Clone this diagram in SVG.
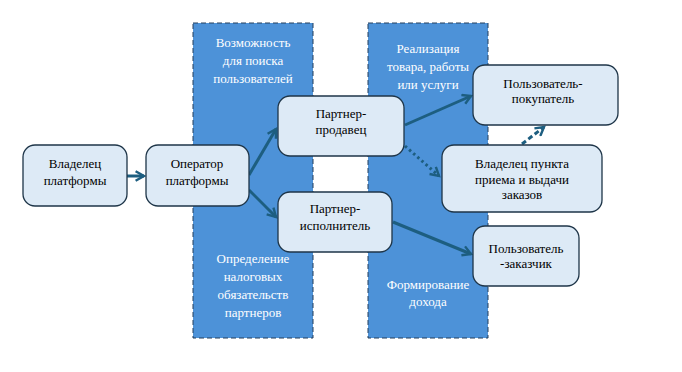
<svg xmlns="http://www.w3.org/2000/svg" width="682" height="372" viewBox="0 0 682 372">
<style>
.band{fill:#4D92D8;stroke:#243F5C;stroke-width:1;stroke-dasharray:5,3}
.box{fill:#DDEAF6;stroke:#1E3548;stroke-width:1.3}
text{font-size:13px;text-anchor:middle}
.t{fill:#000}
.w{fill:#fff}
.c{stroke:#1D5E80;stroke-width:3;fill:none}
</style>
<defs>
<marker id="ah" viewBox="0 0 10 10" refX="8" refY="5" markerWidth="4" markerHeight="4" orient="auto" markerUnits="strokeWidth">
<path d="M1,1 L8,5 L1,9" fill="none" stroke="#1D5E80" stroke-width="2"/>
</marker>
</defs>
<rect width="682" height="372" fill="#fff"/>
<g id="bands" font-family="Liberation Serif, Times New Roman, serif">
<rect class="band" x="193" y="23" width="120" height="315"/>
<rect class="band" x="368" y="23" width="120" height="315"/>
<text class="w" x="253" y="47">Возможность</text>
<text class="w" x="253" y="65">для поиска</text>
<text class="w" x="253" y="83">пользователей</text>
<text class="w" x="253" y="263">Определение</text>
<text class="w" x="253" y="281">налоговых</text>
<text class="w" x="253" y="299">обязательств</text>
<text class="w" x="253" y="317">партнеров</text>
<text class="w" x="428" y="53">Реализация</text>
<text class="w" x="428" y="71">товара, работы</text>
<text class="w" x="428" y="89">или услуги</text>
<text class="w" x="428" y="289">Формирование</text>
<text class="w" x="428" y="306">дохода</text>
</g>
<g id="connectors">
<line class="c" x1="127" y1="176" x2="144" y2="176" marker-end="url(#ah)"/>
<line class="c" x1="249" y1="175" x2="276" y2="129" marker-end="url(#ah)"/>
<line class="c" x1="249" y1="190" x2="276" y2="217" marker-end="url(#ah)"/>
<line class="c" x1="405" y1="125" x2="471" y2="96" marker-end="url(#ah)"/>
<line class="c" x1="405" y1="146" x2="439" y2="176" stroke-dasharray="2.5,3" marker-end="url(#ah)"/>
<line class="c" x1="393" y1="222" x2="471" y2="254" marker-end="url(#ah)"/>
<line class="c" x1="522" y1="144" x2="544" y2="127" stroke-width="2.2" stroke-dasharray="5,3" marker-end="url(#ah)"/>
</g>
<g id="nodes" font-family="Liberation Serif, Times New Roman, serif">
<g id="n1"><rect class="box" x="23" y="145" width="104" height="61" rx="12"/>
<text class="t" x="75" y="168">Владелец</text><text class="t" x="75" y="185">платформы</text></g>
<g id="n2"><rect class="box" x="146" y="145" width="103" height="61" rx="12"/>
<text class="t" x="197" y="168">Оператор</text><text class="t" x="197" y="185">платформы</text></g>
<g id="n3"><rect class="box" x="278" y="96" width="126" height="60" rx="12"/>
<text class="t" x="341" y="118">Партнер-</text><text class="t" x="341" y="134">продавец</text></g>
<g id="n4"><rect class="box" x="278" y="192" width="114" height="60" rx="12"/>
<text class="t" x="335" y="213">Партнер-</text><text class="t" x="335" y="230">исполнитель</text></g>
<g id="n5"><rect class="box" x="473" y="65" width="145" height="60" rx="12"/>
<text class="t" x="543" y="88">Пользователь-</text><text class="t" x="543" y="103">покупатель</text></g>
<g id="n6"><rect class="box" x="442" y="145" width="160" height="67" rx="12"/>
<text class="t" x="522" y="168">Владелец пункта</text><text class="t" x="522" y="184">приема и выдачи</text><text class="t" x="522" y="199">заказов</text></g>
<g id="n7"><rect class="box" x="473" y="226" width="106" height="60" rx="12"/>
<text class="t" x="526" y="253">Пользователь</text><text class="t" x="526" y="268">-заказчик</text></g>
</g>
</svg>
